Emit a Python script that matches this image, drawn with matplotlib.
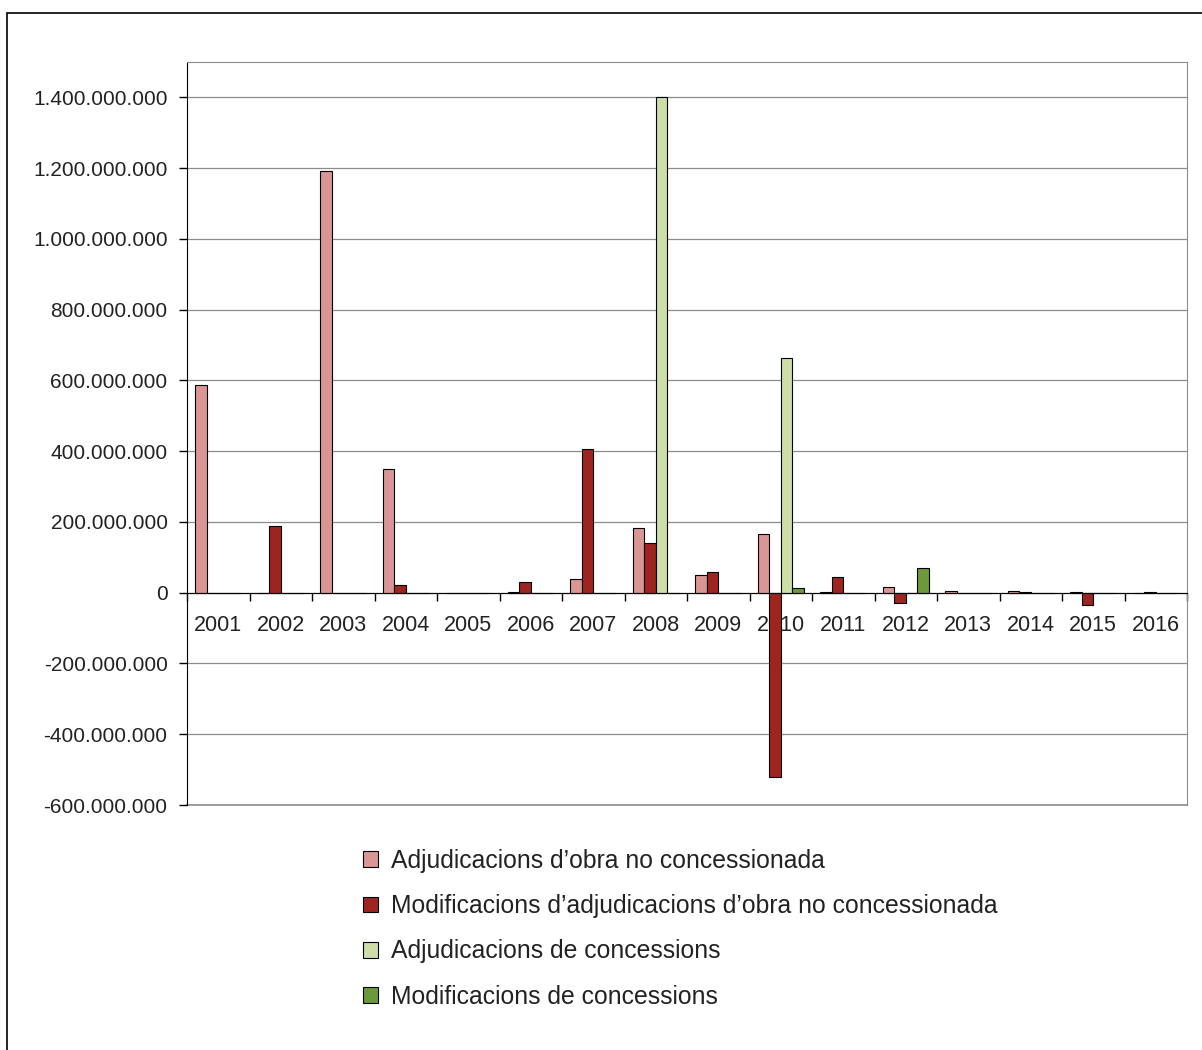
import matplotlib
matplotlib.use("Agg")
import matplotlib.pyplot as plt
import matplotlib.ticker as mticker
from matplotlib.patches import Rectangle
import numpy as np

plt.rcParams['font.family'] = ['Liberation Sans', 'DejaVu Sans']

years = ['2001', '2002', '2003', '2004', '2005', '2006', '2007', '2008',
         '2009', '2010', '2011', '2012', '2013', '2014', '2015', '2016']
series_names = ["Adjudicacions d\u2019obra no concessionada",
                "Modificacions d\u2019adjudicacions d\u2019obra no concessionada",
                "Adjudicacions de concessions",
                "Modificacions de concessions"]

# values in euros
adj_obra = [587e6, 0, 1192e6, 350e6, 0, 3e6, 39e6, 184e6,
            51e6, 167e6, 1e6, 16e6, 5e6, 5e6, 2e6, 0]
mod_obra = [0, 189e6, 0, 22e6, 0, 31e6, 407e6, 140e6,
            59e6, -520e6, 44e6, -29e6, 0, 1e6, -35e6, 1e6]
adj_conc = [0, 0, 0, 0, 0, 0, 0, 1401e6,
            0, 664e6, 0, 0, 0, 0, 0, 0]
mod_conc = [0, 0, 0, 0, 0, 0, 0, 0,
            0, 14e6, 0, 70e6, 0, 0, 0, 0]

colors = ['#D99694', '#9E2420', '#CDDEA7', '#6C9A3B']
grid_col = '#8C8C8C'
text_col = '#222222'

fig = plt.figure(figsize=(12.02, 10.5), dpi=100)
# outer frame
fig.patches.append(Rectangle((7 / 1202, -0.1), 1.2, 1 - 13 / 1050 + 0.1,
                             transform=fig.transFigure, fill=False,
                             edgecolor='black', linewidth=1.2))

ax = fig.add_axes([187 / 1202, 1 - 805 / 1050, 1000 / 1202, (805 - 62) / 1050])

x = np.arange(len(years))
w = 0.185
all_series = [adj_obra, mod_obra, adj_conc, mod_conc]
for k, vals in enumerate(all_series):
    ax.bar(x + (k - 1.5) * w, vals, width=w, color=colors[k],
           edgecolor='black', linewidth=0.8, label=series_names[k], zorder=3)

ax.set_xlim(-0.5, len(years) - 0.5)
ax.set_ylim(-600e6, 1500e6)
ax.yaxis.set_major_locator(mticker.MultipleLocator(200e6))
ax.yaxis.set_major_formatter(mticker.FuncFormatter(
    lambda v, p: '{:,.0f}'.format(v).replace(',', '.')))
ax.grid(axis='y', color=grid_col, linewidth=0.9, zorder=0)
ax.axhline(-600e6, color=grid_col, linewidth=1.2, clip_on=False, zorder=1)
ax.tick_params(axis='y', direction='out', length=6, width=1, labelsize=15,
               colors='black', pad=8, labelcolor=text_col)

# x axis through zero, ticks at category boundaries
ax.spines['bottom'].set_position(('data', 0))
ax.spines['bottom'].set_zorder(4)
ax.xaxis.set_major_locator(mticker.FixedLocator(np.arange(-0.5, len(years), 1)))
ax.xaxis.set_major_formatter(mticker.NullFormatter())
ax.xaxis.set_minor_locator(mticker.FixedLocator(x))
ax.xaxis.set_minor_formatter(mticker.FixedFormatter(years))
ax.tick_params(axis='x', which='major', direction='out', length=6, width=1)
ax.tick_params(axis='x', which='minor', length=0, labelsize=15.5, pad=16,
               labelcolor=text_col)

ax.spines['left'].set_color('black')
ax.spines['top'].set_color(grid_col)
ax.spines['right'].set_color(grid_col)

leg = fig.legend(loc='upper left', bbox_to_anchor=(353 / 1202, 1 - 839 / 1050),
                 frameon=False, fontsize=17.8, handlelength=0.6,
                 handleheight=0.6, handletextpad=0.55, labelspacing=0.86,
                 borderaxespad=0)
for t in leg.get_texts():
    t.set_color(text_col)

fig.savefig('out.png', dpi=100)
